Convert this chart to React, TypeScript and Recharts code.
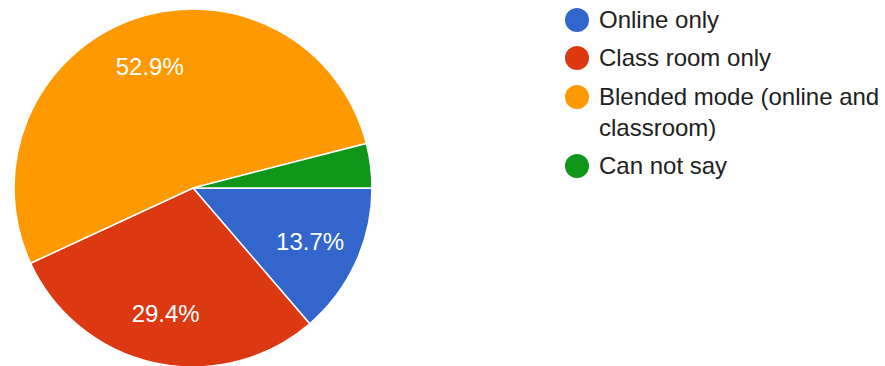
import React from "react";
import { PieChart, Pie, Cell, Legend } from "recharts";

const categories = ["Online only", "Class room only", "Blended mode (online and classroom)", "Can not say"];
const values = [13.7, 29.4, 52.9, 4.0];
const colors = ["#3366cc", "#dc3912", "#ff9900", "#109618"];
const legendLines = [["Online only"], ["Class room only"], ["Blended mode (online and", "classroom)"], ["Can not say"]];

const data = categories.map((name, i) => ({ name, value: values[i] }));

const RAD = Math.PI / 180;
const FONT = "Arial, 'Liberation Sans', sans-serif";

const renderLabel = (props: any) => {
  const { cx, cy, midAngle, outerRadius, percent } = props;
  if (percent < 0.05) return null;
  const r = outerRadius * 0.72;
  const x = cx + r * Math.cos(-midAngle * RAD);
  const y = cy + r * Math.sin(-midAngle * RAD);
  return (
    <text x={x} y={y} fill="#ffffff" textAnchor="middle" dominantBaseline="central"
      style={{ fontFamily: FONT, fontSize: 24 }}>
      {(percent * 100).toFixed(1)}%
    </text>
  );
};

const rowCenters = [20, 58, 97, 166];

const LegendContent = () => {
  return (
    <div style={{ position: "relative", fontFamily: FONT, fontSize: 24, color: "#212121" }}>
      {legendLines.map((lines, i) => {
        const c = rowCenters[i];
        return (
          <div key={i} style={{ position: "absolute", left: 0, top: 0, whiteSpace: "nowrap" }}>
            <div style={{ position: "absolute", left: 0, top: c - 12, width: 24, height: 24, borderRadius: 12, background: colors[i] }} />
            {lines.map((l, j) => (
              <div key={j} style={{ position: "absolute", left: 34, top: c - 14 + j * 31, lineHeight: "28px" }}>{l}</div>
            ))}
          </div>
        );
      })}
    </div>
  );
};

export default function App() {
  return (
    <div style={{ position: "absolute", left: 0, top: 0, width: 885, height: 366, background: "#fff" }}>
      <PieChart width={885} height={366} margin={{ top: 0, right: 0, bottom: 0, left: 0 }}>
        <Pie
          data={data}
          dataKey="value"
          nameKey="name"
          cx={193}
          cy={188}
          outerRadius={179}
          startAngle={0}
          endAngle={-360}
          stroke="#ffffff"
          strokeWidth={1.5}
          label={renderLabel}
          labelLine={false}
          isAnimationActive={false}
        >
          {data.map((d, i) => (
            <Cell key={i} fill={colors[i]} />
          ))}
        </Pie>
        <Legend content={<LegendContent />} wrapperStyle={{ position: "absolute", left: 565, top: 0, width: 320, height: 200 }} />
      </PieChart>
    </div>
  );
}
